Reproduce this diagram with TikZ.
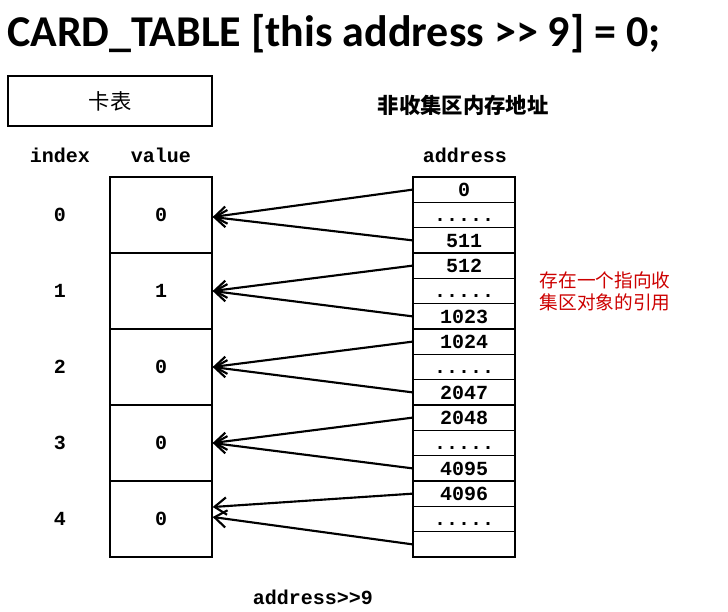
\documentclass[tikz,border=0pt]{standalone}
\usepackage{fontspec}
\setmainfont{Carlito}
\setmonofont{Liberation Mono}
\newfontfamily\cjk{Noto Sans CJK SC}
\definecolor{note_red}{RGB}{204, 0, 0}
\usetikzlibrary{arrows.meta, positioning}

\begin{document}
\begin{tikzpicture}[x=0.75pt, y=-0.75pt,
            font=\ttfamily\bfseries\fontsize{15}{18}\selectfont,
            vcell/.style={draw, line width=1pt, inner sep=0pt,
                          minimum width=76.5pt, minimum height=57pt},
            acell/.style={draw, line width=1pt, inner sep=0pt,
                          minimum width=76.5pt, minimum height=19pt,
                          text height=11pt, text depth=1pt},
            arr/.style={-{Straight Barb[length=9pt, width=13pt]}, line width=1.6pt}]
  \useasboundingbox (0, 0) rectangle (728, 611);
  % title
  \node[font=\bfseries\fontsize{33}{36}\selectfont, anchor=base west, inner sep=0pt]
    (title) at (7, 46) {CARD\_TABLE [this address >{}> 9] = 0;};
  \node[draw, line width=1pt, minimum width=153pt, minimum height=37.5pt,
        font=\cjk\fontsize{16}{18}\selectfont] (card) at (110, 101) {卡表};
  \node[font=\cjk\bfseries\fontsize{16}{18}\selectfont] (region) at (463, 105) {非收集区内存地址};
  % column heads
  \node (hindex) at (60, 155) {index};
  \node (hvalue) at (161, 155) {value};
  \node (haddr) at (465, 155) {address};
  % card table
  \node[vcell] (v0) at (161, 215) {0};
  \node[vcell] (v1) at (161, 291) {1};
  \node[vcell] (v2) at (161, 367) {0};
  \node[vcell] (v3) at (161, 443) {0};
  \node[vcell] (v4) at (161, 519) {0};
  \node (i0) at (60, 215) {0};
  \node (i1) at (60, 291) {1};
  \node (i2) at (60, 367) {2};
  \node (i3) at (60, 443) {3};
  \node (i4) at (60, 519) {4};
  % address cells
  \node[acell] (a1) at (464, 189.67) {0};
  \node[acell] (a2) at (464, 215) {.....};
  \node[acell] (a3) at (464, 240.33) {511};
  \node[acell] (a4) at (464, 265.67) {512};
  \node[acell] (a5) at (464, 291) {.....};
  \node[acell] (a6) at (464, 316.33) {1023};
  \node[acell] (a7) at (464, 341.67) {1024};
  \node[acell] (a8) at (464, 367) {.....};
  \node[acell] (a9) at (464, 392.33) {2047};
  \node[acell] (a10) at (464, 417.67) {2048};
  \node[acell] (a11) at (464, 443) {.....};
  \node[acell] (a12) at (464, 468.33) {4095};
  \node[acell] (a13) at (464, 493.67) {4096};
  \node[acell] (a14) at (464, 519) {.....};
  \node[acell] (a15) at (464, 544.33) {};
  % references
  \draw[arr] (a1.west) -- ([yshift=-1.5pt]v0.east);
  \draw[arr] (a3.west) -- ([yshift=-1.5pt]v0.east);
  \draw[arr] (a4.west) -- (v1.east);
  \draw[arr] (a6.west) -- (v1.east);
  \draw[arr] (a7.west) -- (v2.east);
  \draw[arr] (a9.west) -- (v2.east);
  \draw[arr] (a10.west) -- (v3.east);
  \draw[arr] (a12.west) -- (v3.east);
  \draw[arr] (a13.west) -- ([yshift=9pt]v4.east);
  \draw[arr] (a15.west) -- ([yshift=1.5pt]v4.east);
  \node[anchor=west, align=left, text=note_red,
        font=\cjk\fontsize{14}{16.5}\selectfont] (note) at (535, 291)
    {存在一个指向收\\集区对象的引用};
  \node (shift) at (313, 597) {address>{}>9};
\end{tikzpicture}
\end{document}
